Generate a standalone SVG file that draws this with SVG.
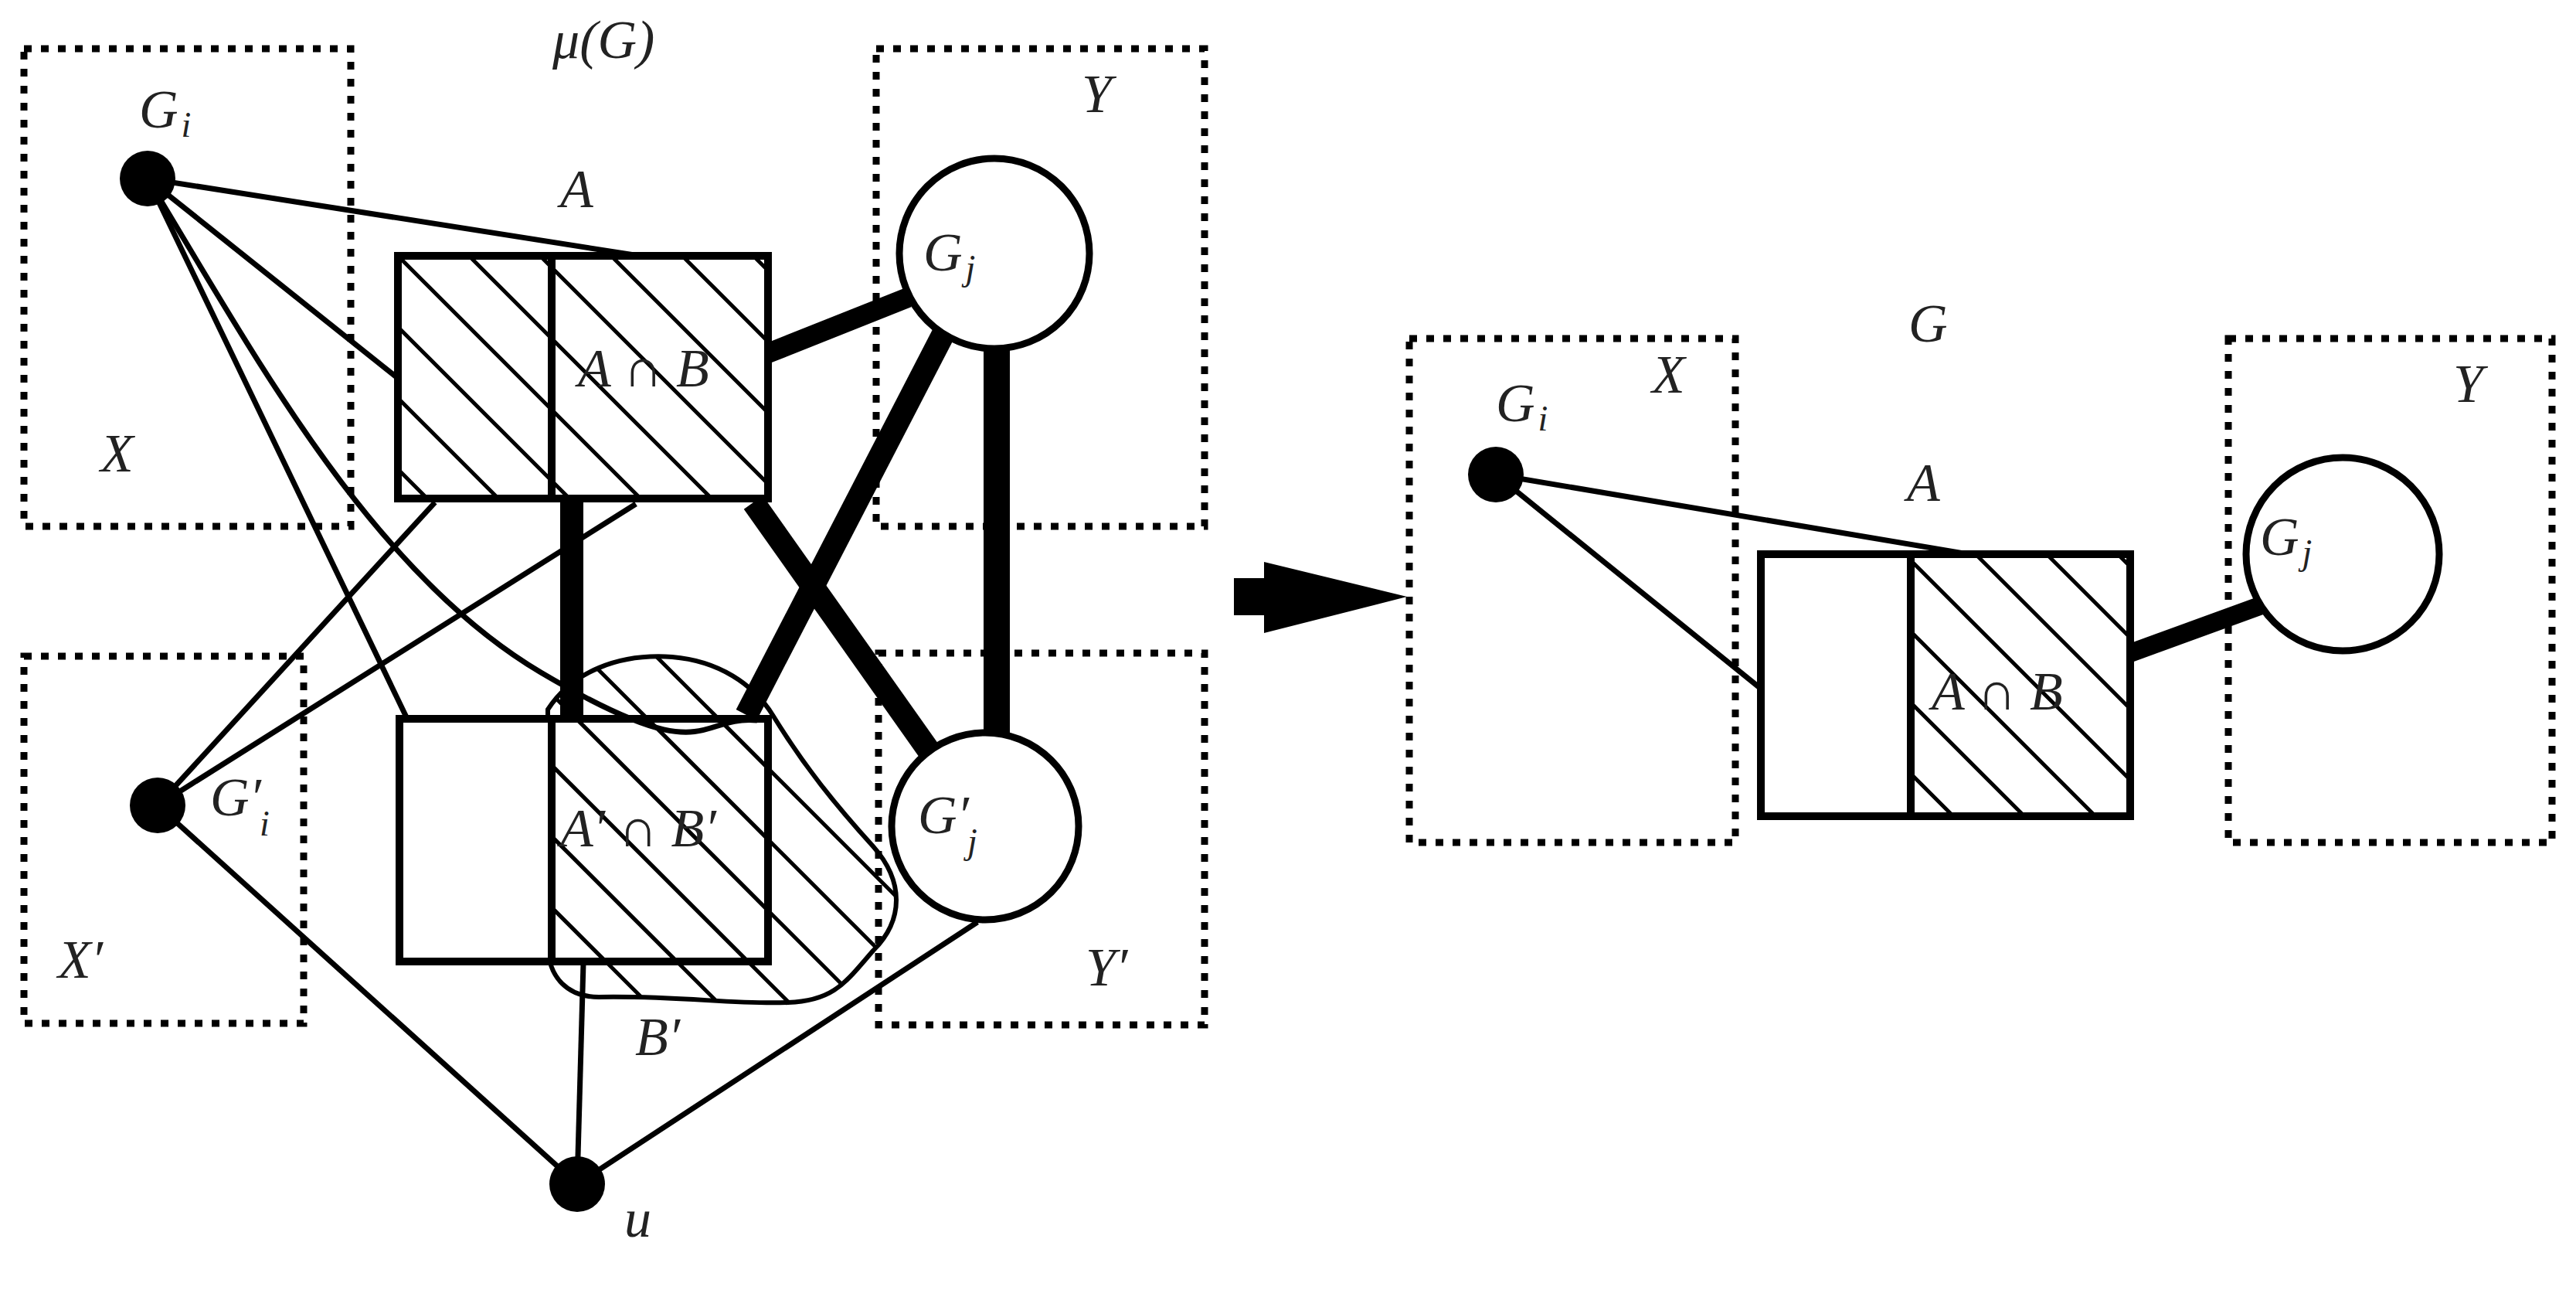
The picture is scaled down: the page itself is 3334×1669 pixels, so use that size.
<svg xmlns="http://www.w3.org/2000/svg" width="3334" height="1669" viewBox="0 0 3334 1669">
<style>
.dot{fill:none;stroke:#000;stroke-width:9;stroke-dasharray:10 12}
.thin{fill:none;stroke:#000;stroke-width:7}
.thick{fill:none;stroke:#000}
.box{fill:none;stroke:#000;stroke-width:10}
.lab{font-family:"Liberation Serif",serif;font-style:italic;font-size:70px;fill:#222}
.sub{font-size:46px}
</style>
<defs>
<pattern id="h" patternUnits="userSpaceOnUse" width="92" height="92">
<path d="M-10,-10 L102,102 M-10,82 L10,102 M82,-10 L102,10" stroke="#000" stroke-width="5"/>
</pattern>
<clipPath id="blobclip"><path id="blobp" d="M709,918 C740,870 800,845 870,850 C930,855 975,885 1000,925 C1040,990 1080,1040 1130,1095 C1170,1140 1170,1190 1130,1230 C1095,1270 1080,1295 1020,1297 C950,1300 880,1288 775,1290 C735,1290 710,1265 709,1224 Z"/></clipPath>
</defs>
<g id="regions">
<rect class="dot" x="31" y="63" width="423" height="618"/>
<rect class="dot" x="1134" y="63" width="425" height="618"/>
<rect class="dot" x="31" y="849" width="362" height="475"/>
<rect class="dot" x="1137" y="845" width="422" height="481"/>
<rect class="dot" x="1824" y="438" width="422" height="652"/>
<rect class="dot" x="2884" y="438" width="419" height="652"/>
</g>
<g id="connectors">
<line class="thin" x1="191" y1="231" x2="821" y2="330"/>
<line class="thin" x1="191" y1="231" x2="512" y2="487"/>
<line class="thin" x1="191" y1="231" x2="527" y2="930"/>
<path class="thin" d="M191,231 C330,460 480,740 700,870 S900,925 980,932"/>
<line class="thin" x1="204" y1="1042" x2="563" y2="650"/>
<line class="thin" x1="204" y1="1042" x2="823" y2="652"/>
<line class="thin" x1="204" y1="1042" x2="747" y2="1532"/>
<line class="thin" x1="747" y1="1532" x2="755" y2="1246"/>
<line class="thin" x1="747" y1="1532" x2="1265" y2="1193"/>
<line class="thick" stroke-width="26" x1="994" y1="457" x2="1175" y2="385"/>
<line class="thick" stroke-width="30" x1="966" y1="925" x2="1222" y2="430"/>
<line class="thick" stroke-width="30" x1="975" y1="650" x2="1207" y2="978"/>
<line class="thick" stroke-width="34" x1="1290" y1="444" x2="1290" y2="955"/>
<line class="thick" stroke-width="30" x1="740" y1="650" x2="740" y2="926"/>
<line class="thin" x1="1936" y1="614" x2="2548" y2="717"/>
<line class="thin" x1="1936" y1="614" x2="2279" y2="891"/>
<line class="thick" stroke-width="24" x1="2757" y1="845" x2="2930" y2="782"/>
<path d="M1597,748 H1636 V727 L1821,772 L1636,819 V796 H1597 Z" fill="#000"/>
</g>
<g id="blob">
<rect x="700" y="830" width="480" height="480" fill="url(#h)" clip-path="url(#blobclip)"/>
<use href="#blobp" class="thin" style="stroke-width:6"/>
</g>
<g id="rectA">
<rect x="515" y="331" width="479" height="314" fill="url(#h)"/>
<rect class="box" x="515" y="331" width="479" height="314"/>
<line class="box" x1="714" y1="331" x2="714" y2="645"/>
</g>
<g id="rectB">
<rect x="517" y="930" width="197" height="314" fill="#fff"/>
<rect x="714" y="930" width="280" height="314" fill="url(#h)"/>
<rect class="box" x="517" y="930" width="477" height="314"/>
<line class="box" x1="714" y1="930" x2="714" y2="1244"/>
</g>
<g id="rectR">
<rect x="2279" y="717" width="194" height="339" fill="#fff"/>
<rect x="2473" y="717" width="284" height="339" fill="url(#h)"/>
<rect class="box" x="2279" y="717" width="478" height="339"/>
<line class="box" x1="2473" y1="717" x2="2473" y2="1056"/>
</g>
<g id="Gi"><circle cx="191" cy="231" r="36"/></g>
<g id="Gi2"><circle cx="204" cy="1042" r="36"/></g>
<g id="u"><circle cx="747" cy="1532" r="36"/></g>
<g id="Gj"><circle cx="1287" cy="328" r="123" fill="#fff" stroke="#000" stroke-width="9"/></g>
<g id="Gj2"><circle cx="1275" cy="1069" r="121" fill="#fff" stroke="#000" stroke-width="9"/></g>
<g id="GiR"><circle cx="1936" cy="614" r="36"/></g>
<g id="GjR"><circle cx="3032" cy="717" r="125" fill="#fff" stroke="#000" stroke-width="9"/></g>
<g id="labels">
<text class="lab" x="715" y="75">μ(G)</text>
<text class="lab" x="180" y="165">G<tspan class="sub" dx="4" dy="12">i</tspan></text>
<text class="lab" x="725" y="268">A</text>
<text class="lab" x="130" y="610">X</text>
<text class="lab" x="1400" y="145">Y</text>
<text class="lab" x="748" y="500">A ∩ B</text>
<text class="lab" x="1195" y="350">G<tspan class="sub" dx="4" dy="12">j</tspan></text>
<text class="lab" x="272" y="1055">G′<tspan class="sub" dx="-2" dy="26">i</tspan></text>
<text class="lab" x="725" y="1095">A′ ∩ B′</text>
<text class="lab" x="1188" y="1078">G′<tspan class="sub" dx="-2" dy="26">j</tspan></text>
<text class="lab" x="75" y="1265">X′</text>
<text class="lab" x="1405" y="1275">Y′</text>
<text class="lab" x="822" y="1365">B′</text>
<text class="lab" x="808" y="1600">u</text>
<text class="lab" x="2470" y="442">G</text>
<text class="lab" x="2138" y="508">X</text>
<text class="lab" x="1936" y="545">G<tspan class="sub" dx="4" dy="12">i</tspan></text>
<text class="lab" x="2468" y="648">A</text>
<text class="lab" x="3175" y="520">Y</text>
<text class="lab" x="2925" y="718">G<tspan class="sub" dx="4" dy="12">j</tspan></text>
<text class="lab" x="2500" y="918">A ∩ B</text>
</g>
</svg>
